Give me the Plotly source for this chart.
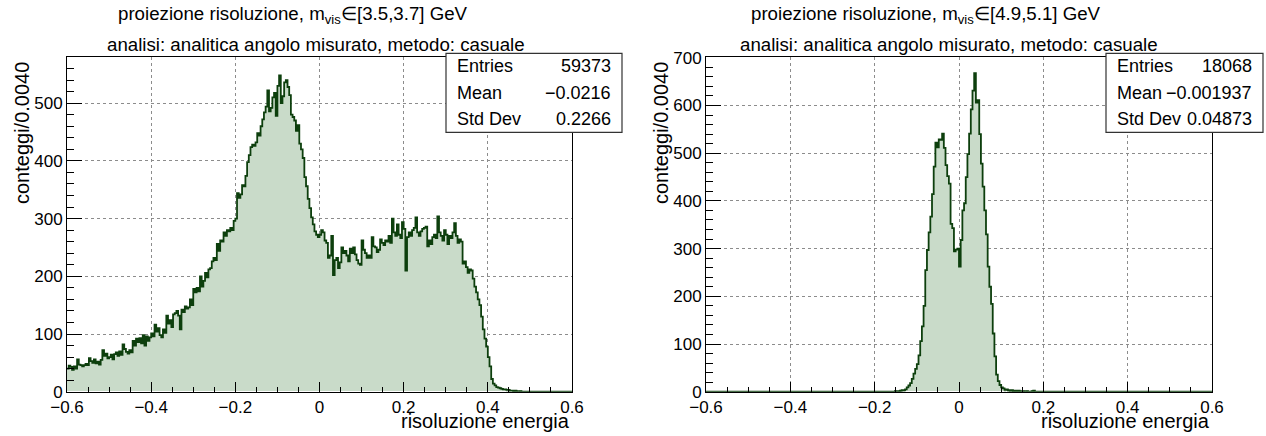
import plotly.graph_objects as go

# ---- figure geometry (pixels) ----
W, H = 1266, 436


def fx(p):
    return p / W


def fy(p):
    return 1 - p / H


FONT = "Liberation Sans, Arial, DejaVu Sans, sans-serif"
LINE_COLOR = "#0d3f0d"
FILL_COLOR = "#c9dbc9"

# ---- binning: 300 bins of width 0.004 on [-0.6, 0.6] ----
BIN_WIDTH = 0.004
X_MIN = -0.6
X_MAX = 0.6

# counts per bin, m_vis in [3.5, 3.7] GeV
counts_35_37 = [
    40, 45, 43, 38, 44, 40, 56, 47, 46, 44,
    46, 48, 46, 58, 53, 50, 56, 49, 52, 47,
    55, 72, 62, 66, 58, 60, 64, 56, 65, 68,
    62, 70, 64, 82, 74, 69, 66, 72, 68, 88,
    80, 92, 86, 93, 84, 98, 80, 96, 88, 94,
    101, 96, 116, 104, 110, 98, 94, 108, 102, 132,
    118, 124, 112, 134, 136, 140, 132, 108, 142, 138,
    148, 144, 146, 160, 150, 178, 172, 180, 174, 200,
    182, 192, 206, 198, 212, 214, 226, 232, 228, 256,
    244, 262, 260, 276, 270, 280, 278, 284, 280, 296,
    300, 344, 336, 342, 358, 356, 374, 398, 410, 424,
    428, 426, 432, 448, 444, 460, 472, 484, 494, 522,
    486, 492, 510, 518, 478, 530, 548, 500, 512, 536,
    540, 528, 514, 480, 476, 470, 452, 462, 430, 420,
    405, 372, 356, 334, 318, 302, 290, 278, 272, 268,
    272, 280, 276, 262, 258, 232, 236, 270, 202, 228,
    232, 214, 224, 250, 240, 244, 236, 226, 248, 240,
    250, 238, 228, 222, 220, 262, 246, 240, 232, 236,
    232, 268, 252, 250, 242, 246, 264, 258, 254, 262,
    260, 270, 258, 300, 276, 270, 290, 272, 266, 294,
    282, 210, 268, 276, 270, 280, 284, 302, 276, 270,
    278, 282, 284, 286, 252, 262, 256, 268, 272, 266,
    304, 276, 270, 262, 280, 272, 256, 270, 266, 276,
    292, 270, 258, 264, 260, 222, 226, 216, 206, 212,
    210, 196, 182, 172, 160, 150, 130, 108, 92, 78,
    60, 44, 22, 14, 11, 8, 7, 6, 5, 4,
    4, 3, 3, 2, 2, 1, 2, 1, 0, 1,
    0, 0, 0, 0, 0, 0, 0, 0, 0, 0,
    0, 0, 0, 0, 0, 0, 0, 0, 0, 0,
    0, 0, 0, 0, 0, 0, 0, 0, 0, 0,
]

# counts per bin, m_vis in [4.9, 5.1] GeV (bins 0-111 and 195-299 are empty)
counts_49_51 = (
    [0] * 112
    + [
        1, 0, 1, 2, 3, 3, 5, 9, 13, 18,
        27, 38, 48, 58, 76, 106, 137, 180, 255, 297,
        334, 367, 414, 472, 522, 512, 529, 528, 541, 511,
        475, 452, 436, 352, 343, 294, 298, 300, 262, 318,
        380, 395, 450, 498, 541, 592, 631, 668, 606, 611,
        540, 478, 430, 380, 330, 262, 220, 184, 122, 74,
        36, 22, 14, 9, 7, 4, 5, 3, 2, 3,
        1, 2, 1, 2, 1, 0, 1, 0, 1, 0,
        0, 1, 2,
    ]
    + [0] * 105
)

titles_top = [
    "proiezione risoluzione, m<sub>vis</sub>\u2208[3.5,3.7] GeV",
    "proiezione risoluzione, m<sub>vis</sub>\u2208[4.9,5.1] GeV",
]
title_bottom = "analisi: analitica angolo misurato, metodo: casuale"
stats_labels = ["Entries", "Mean", "Std Dev"]
stats_values = [
    ["59373", "\u22120.0216", "0.2266"],
    ["18068", "\u22120.001937", "0.04873"],
]
x_tick_vals = [-0.6, -0.4, -0.2, 0.0, 0.2, 0.4, 0.6]
x_tick_text = ["\u22120.6", "\u22120.4", "\u22120.2", "0", "0.2", "0.4", "0.6"]
y_title = "conteggi/0.0040"
x_title = "risoluzione energia"

n_bins = len(counts_35_37)
edges = [X_MIN + BIN_WIDTH * i for i in range(n_bins + 1)]
centers = [X_MIN + BIN_WIDTH * (i + 0.5) for i in range(n_bins)]

# panel layout in pixels: frame left/right, y range, stats box, title starts
panels = [
    dict(counts=counts_35_37, left=67, right=572, ymax=579.5, dy=100,
         stats_box=(446, 622), title_x=(116, 105)),
    dict(counts=counts_49_51, left=706, right=1212, ymax=701, dy=100,
         stats_box=(1106, 1263), title_x=(749, 738)),
]
FRAME_TOP, FRAME_BOTTOM = 57.3, 391.7
TITLE_SIZE = 18.7

fig = go.Figure()
annotations = []
shapes = []

for k, p in enumerate(panels):
    xa = "x" if k == 0 else "x2"
    ya = "y" if k == 0 else "y2"
    counts = p["counts"]

    # filled bins
    fig.add_trace(go.Bar(
        x=centers, y=counts, width=BIN_WIDTH,
        marker=dict(color=FILL_COLOR, line=dict(width=0)),
        xaxis=xa, yaxis=ya, showlegend=False, hoverinfo="skip",
    ))
    # histogram outline (step)
    fig.add_trace(go.Scatter(
        x=edges, y=counts + [counts[-1]], mode="lines",
        line=dict(color=LINE_COLOR, width=1.8, shape="hv"),
        xaxis=xa, yaxis=ya, showlegend=False, hoverinfo="skip",
    ))

    axis_common = dict(
        automargin=False,
        showline=True, mirror=True, linecolor="black", linewidth=1,
        ticks="inside", tickcolor="black",
        showgrid=True, gridcolor="#8c8c8c", griddash="dot", gridwidth=1,
        zeroline=False,
        tickfont=dict(family=FONT, size=17, color="black"),
    )
    xdom = [fx(p["left"]), fx(p["right"])]
    ydom = [fy(FRAME_BOTTOM), fy(FRAME_TOP)]
    xkey = "xaxis" if k == 0 else "xaxis2"
    ykey = "yaxis" if k == 0 else "yaxis2"
    fig.update_layout({
        xkey: dict(
            axis_common, domain=xdom, range=[X_MIN, X_MAX], anchor=ya,
            tickmode="array", tickvals=x_tick_vals, ticktext=x_tick_text,
            ticklen=10,
            minor=dict(dtick=0.05, tick0=X_MIN, ticklen=5, ticks="inside",
                       tickcolor="black", showgrid=False),
        ),
        ykey: dict(
            axis_common, domain=ydom, range=[0, p["ymax"]], anchor=xa,
            dtick=p["dy"], tick0=0, ticklen=15,
            minor=dict(dtick=20, tick0=0, ticklen=7, ticks="inside",
                       tickcolor="black", showgrid=False),
        ),
    })

    # two-line title
    annotations.append(dict(
        text=titles_top[k], x=fx(p["title_x"][0]), y=fy(15),
        xref="paper", yref="paper", xanchor="left", yanchor="middle",
        showarrow=False, font=dict(family=FONT, size=TITLE_SIZE, color="black"),
    ))
    annotations.append(dict(
        text=title_bottom, x=fx(p["title_x"][1]), y=fy(44),
        xref="paper", yref="paper", xanchor="left", yanchor="middle",
        showarrow=False, font=dict(family=FONT, size=TITLE_SIZE, color="black"),
    ))

    # axis titles
    annotations.append(dict(
        text=y_title, textangle=-90, x=fx(p["left"] - 45), y=fy(60),
        xref="paper", yref="paper", xanchor="center", yanchor="top",
        showarrow=False, font=dict(family=FONT, size=20, color="black"),
    ))
    annotations.append(dict(
        text=x_title, x=fx(p["right"]), y=fy(421),
        xref="paper", yref="paper", xanchor="right", yanchor="middle",
        showarrow=False, font=dict(family=FONT, size=20, color="black"),
    ))

    # statistics box
    bx0, bx1 = p["stats_box"]
    by0, by1 = 53.3, 132.3
    shapes.append(dict(
        type="rect", xref="paper", yref="paper",
        x0=fx(bx0), x1=fx(bx1), y0=fy(by1), y1=fy(by0),
        fillcolor="white", line=dict(color="#333333", width=1.2), layer="above",
    ))
    row_h = (by1 - by0) / 3
    for r in range(3):
        yc = by0 + row_h * (r + 0.5)
        annotations.append(dict(
            text=stats_labels[r], x=fx(bx0 + 9), y=fy(yc),
            xref="paper", yref="paper", xanchor="left", yanchor="middle",
            showarrow=False, font=dict(family=FONT, size=18, color="black"),
        ))
        annotations.append(dict(
            text=stats_values[k][r], x=fx(bx1 - 9), y=fy(yc),
            xref="paper", yref="paper", xanchor="right", yanchor="middle",
            showarrow=False, font=dict(family=FONT, size=18, color="black"),
        ))

fig.update_layout(
    width=W, height=H,
    margin=dict(l=0, r=0, t=0, b=0, autoexpand=False),
    paper_bgcolor="white", plot_bgcolor="white",
    bargap=0, barmode="overlay",
    annotations=annotations, shapes=shapes,
    font=dict(family=FONT, color="black"),
)

fig.write_html("out.html")
